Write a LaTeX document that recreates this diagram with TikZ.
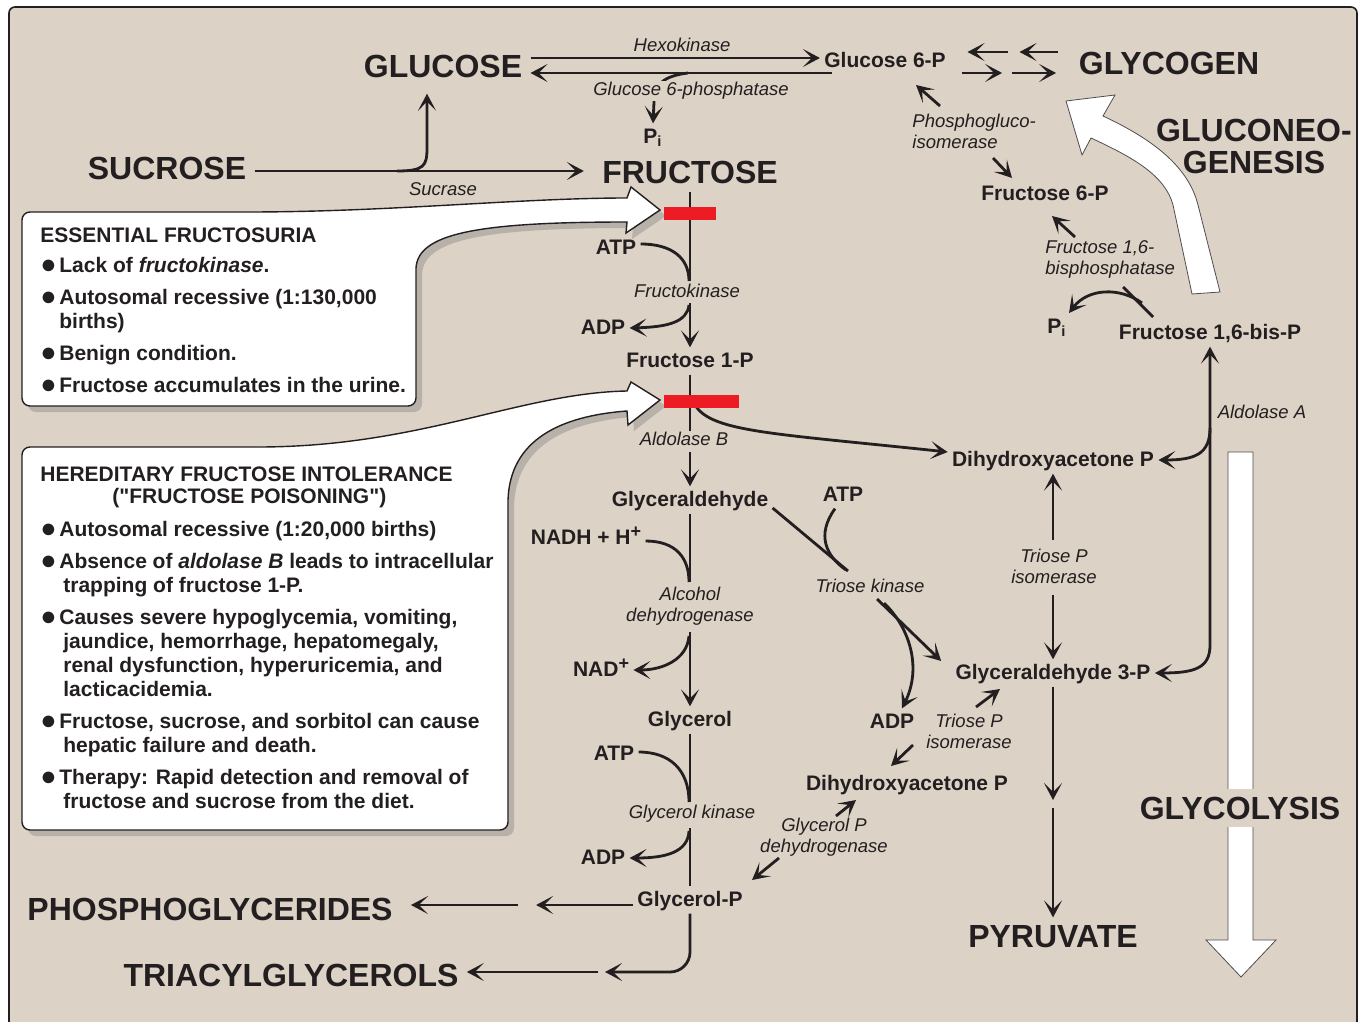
\documentclass[tikz,border=0pt]{standalone}
\usepackage{fontspec}
\setmainfont{Liberation Sans}
\usepackage{tikz}
\usetikzlibrary{arrows.meta, shadows}

\definecolor{paper}{RGB}{220,210,198}
\definecolor{ink}{RGB}{35,31,32}
\definecolor{blockred}{RGB}{237,28,36}

\newcommand{\bul}{\makebox[9.5pt][l]{\raisebox{-0.3pt}{\fontsize{13.5}{12}\selectfont ●}}}
\newcommand{\dq}{\XeTeXglyph\XeTeXcharglyph"22\relax}
\newcommand{\charge}{\raisebox{3.5pt}{\fontsize{9}{9}\selectfont +}}

\begin{document}
\begin{tikzpicture}[
    x=0.5pt, y=-0.5pt,
    >={Stealth[length=8.5pt, width=9pt, inset=4.5pt]},
    big/.style={font=\fontsize{16}{16}\selectfont\bfseries, text=ink, inner sep=4pt, align=center},
    metab/.style={font=\fontsize{10.5}{12}\selectfont\bfseries, text=ink, inner sep=2pt, text height=1.5ex, text depth=.25ex},
    enzyme/.style={font=\fontsize{9.25}{10.5}\selectfont\itshape, text=ink, fill=paper, inner sep=0.5pt},
    arrow/.style={->, line width=1.4pt, draw=ink},
    link/.style={line width=1.4pt, draw=ink},
    callout/.style={fill=white, draw=ink, line width=0.7pt, drop shadow={shadow xshift=3pt, shadow yshift=-3pt, opacity=0.4}},
    boxtext/.style={font=\fontsize{10.5}{12}\selectfont\bfseries, text=ink, align=left, anchor=north west, inner sep=0pt},
    blockarrow/.style={fill=white, draw=ink!80, line width=0.4pt},
    redbar/.style={fill=blockred, inner sep=0pt, minimum height=6.5pt}
]
\useasboundingbox (0,0) rectangle (1363,1021);
\draw[fill=paper, draw=ink, line width=0.8pt, rounded corners=3pt] (9,7) rectangle (1357,1040);

% Big white arrows: gluconeogenesis and glycolysis
\path[blockarrow] (1192,294) -- (1173,205) .. controls (1165,175) and (1132,157) .. (1091,138)
    -- (1082,155) -- (1066,101) -- (1115,95) -- (1103,116)
    .. controls (1150,138) and (1188,165) .. (1198,205) -- (1220,292) -- cycle;
\path[blockarrow] (1228,452) -- (1253,452) -- (1253,940) -- (1276,940) -- (1241,977) -- (1206,940) -- (1228,940) -- cycle;

% Callout boxes
\path[callout] (22,320) [rounded corners=4pt] -- (22,212) -- (240,212) [sharp corners]
    .. controls (390,212) and (520,198) .. (627,198) -- (631,187) -- (660,210) -- (626,233) -- (627,222)
    .. controls (475,222) and (418,234) .. (416,268) [rounded corners=4pt] -- (416,406) -- (22,406) -- cycle;
\path[callout] (22,640) [rounded corners=4pt] -- (22,447) -- (250,447) [sharp corners]
    .. controls (420,447) and (520,393) .. (627,391) -- (631,382) -- (660,400) -- (628,425) -- (627,411)
    .. controls (560,416) and (510,440) .. (508,500) [rounded corners=4pt] -- (508,830) -- (22,830) -- cycle;

\node[boxtext] (fsuria) at (40,227.5) {ESSENTIAL FRUCTOSURIA\\[3pt]
\bul Lack of \textit{fructokinase}.\\[4pt]
\bul Autosomal recessive (1:130,000\\
\hspace*{9.5pt}births)\\[4pt]
\bul Benign condition.\\[4pt]
\bul Fructose accumulates in the urine.};

\node[boxtext] (hfi) at (40,466.5) {HEREDITARY FRUCTOSE INTOLERANCE\\[-1pt]
\hspace*{36pt}(\dq FRUCTOSE POISONING\dq)\\[4.5pt]
\bul Autosomal recessive (1:20,000 births)\\[4pt]
\bul Absence of \textit{aldolase B} leads to intracellular\\
\hspace*{11.5pt}trapping of fructose 1-P.\\[4pt]
\bul Causes severe hypoglycemia, vomiting,\\
\hspace*{11.5pt}jaundice, hemorrhage, hepatomegaly,\\
\hspace*{11.5pt}renal dysfunction, hyperuricemia, and\\
\hspace*{11.5pt}lacticacidemia.\\[4pt]
\bul Fructose, sucrose, and sorbitol can cause\\
\hspace*{11.5pt}hepatic failure and death.\\[4pt]
\bul Therapy: Rapid detection and removal of\\
\hspace*{11.5pt}fructose and sucrose from the diet.};

% Main compounds
\node[big] (glucose) at (443,66) {GLUCOSE};
\node[big] (sucrose) at (167,168) {SUCROSE};
\node[big] (fructose) at (690,172) {FRUCTOSE};
\node[big] (glycogen) at (1169,63) {GLYCOGEN};
\node[big] (gluconeo) at (1254,146) {GLUCONEO-\\GENESIS};
\node[big, fill=paper] (glycolysis) at (1240,808) {GLYCOLYSIS};
\node[big] (pyruvate) at (1053,937) {PYRUVATE};
\node[big] (phosphoglyc) at (210,909) {PHOSPHOGLYCERIDES};
\node[big] (tag) at (291,975) {TRIACYLGLYCEROLS};

% Intermediates
\node[metab] (glc6p) at (885,61) {Glucose 6-P};
\node[metab] (pi1) at (653,137) {P\textsubscript{i}};
\node[metab] (fru6p) at (1045,194) {Fructose 6-P};
\node[metab] (pi2) at (1057,327) {P\textsubscript{i}};
\node[metab] (fbp) at (1210,333) {Fructose 1,6-bis-P};
\node[metab] (fru1p) at (690,361) {Fructose 1-P};
\node[metab] (glyald) at (690,500) {Glyceraldehyde};
\node[metab] (glycerol) at (690,720) {Glycerol};
\node[metab] (glycerolp) at (690,900) {Glycerol-P};
\node[metab] (dhapR) at (1053,460) {Dihydroxyacetone P};
\node[metab] (gap) at (1053,673) {Glyceraldehyde 3-P};
\node[metab] (dhapL) at (907,784) {Dihydroxyacetone P};

% Cofactors
\node[metab] (atp1) at (616,248) {ATP};
\node[metab] (adp1) at (603,328) {ADP};
\node[metab] (nadh) at (586,538) {NADH + H\charge};
\node[metab] (nad) at (601,670) {NAD\charge};
\node[metab] (atp3) at (614,754) {ATP};
\node[metab] (adp3) at (603,858) {ADP};
\node[metab] (atp2) at (843,495) {ATP};
\node[metab] (adp2) at (892,722) {ADP};

% Glucose <-> glucose 6-P <-> glycogen
\draw[arrow] ([yshift=4pt]glucose.east) -- ([yshift=4pt]glucose.east -| glc6p.west);
\draw[arrow] ([shift={(12,12)}]glc6p.west) -- ([yshift=-3.5pt]glucose.east);
\draw[arrow] (688,73) .. controls (664,76) and (654,84) .. (654,102) -- (pi1.north);
\draw[arrow] ([shift={(-13,-11)}]glycogen.west) -- ++(-38,0);
\draw[arrow] ([shift={(-63,-11)}]glycogen.west) -- ++(-40,0);
\draw[arrow] ([shift={(12,12)}]glc6p.east) -- ++(40,0);
\draw[arrow] ([shift={(62,12)}]glc6p.east) -- ++(44,0);

% Sucrose split
\draw[arrow, shorten >=5pt] (sucrose.east |- 0,171) -- (fructose.west |- 0,171);
\draw[arrow, shorten >=4pt] (397,171) .. controls (424,171) and (427,166) .. (427,148) -- (glucose.south -| 427,0);

% Fructose -> fructose 1-P
\draw[link] (fructose.south) -- (690,281);
\draw[link] ([yshift=2pt]atp1.east) .. controls (672,244) and (689,258) .. (689,281);
\draw[arrow] (690,303) -- (fru1p.north);
\draw[arrow] (689,305) .. controls (687,322) and (668,327) .. (adp1.east);

% Fructose 1-P -> trioses
\draw[link] (fru1p.south) -- (690,432);
\draw[arrow] (692,398) .. controls (702,432) and (760,432) .. ([yshift=4pt]dhapR.west);
\draw[arrow] (690,452) -- (glyald.north);

% Glyceraldehyde -> glycerol
\draw[link] (glyald.south) -- (690,582);
\draw[link] ([yshift=-1.5pt]nadh.east) .. controls (676,541) and (689,558) .. (689,582);
\draw[arrow] (690,632) -- (glycerol.north);
\draw[arrow] (689,636) .. controls (687,660) and (662,670) .. (nad.east);

% Glycerol -> glycerol-P
\draw[link] (glycerol.south) -- (690,802);
\draw[link] ([yshift=1pt]atp3.east) .. controls (670,752) and (689,770) .. (689,802);
\draw[link] (690,828) -- (glycerolp.north);
\draw[arrow] (689,831) .. controls (688,852) and (666,858) .. (adp3.east);

% Glycerol-P -> lipids
\draw[arrow] ([yshift=-2.5pt]glycerolp.west) -- ++(-97,0);
\draw[arrow, shorten >=5pt] (518,905) -- (phosphoglyc.east |- 0,905);
\draw[arrow, rounded corners=10pt] (glycerolp.south) |- (605,972);
\draw[arrow] (598,972) -- (tag.east |- 0,972);

% Triose kinase branch
\draw[link] ([yshift=-4pt]glyald.east) -- (848,571);
\draw[link] ([xshift=-4pt]atp2.south) .. controls (816,535) and (826,556) .. (846,570);
\draw[arrow] (877,599) -- ([shift={(-10,-12)}]gap.west);
\draw[arrow] (884,603) .. controls (910,628) and (922,668) .. ([xshift=5pt]adp2.north);

% Isomerase and glycerol-P dehydrogenase
\draw[arrow] (976,707) -- (1000,689);
\draw[arrow] (913,745) -- (891,766);
\draw[arrow] (836,816) -- (856,800);
\draw[arrow] (779,858) -- (752,880);

% Right column
\draw[arrow] (1053,540) -- (dhapR.south);
\draw[arrow] (1053,595) -- (gap.north);
\draw[arrow] (gap.south) -- (1053,800);
\draw[arrow] (1053,808) -- (pyruvate.north);
\draw[arrow, <->] (fbp.south) -- (1210,645) .. controls (1210,668) and (1195,673) .. (gap.east);
\draw[arrow] (1210,428) .. controls (1210,454) and (1195,460) .. (dhapR.east);

% Gluconeogenic steps
\draw[arrow] (940,106) -- (916,85);
\draw[arrow] (993,158) -- (1012,178);
\draw[arrow] (1075,237) -- (1052,216);
\draw[link] (1153,317) -- (1123,287);
\draw[arrow] (1142,303) .. controls (1120,287) and (1088,288) .. (1069,313);

% Enzymes
\node[enzyme] (hexokinase) at (682,45) {Hexokinase};
\node[enzyme] (g6pase) at (691,91) {Glucose 6-phosphatase};
\node[enzyme] (sucrase) at (443,189) {Sucrase};
\node[enzyme, align=left, anchor=west] (pgi) at (911,131) {Phosphogluco-\\isomerase};
\node[enzyme, align=left, anchor=west] (fbpase) at (1044,259) {Fructose 1,6-\\bisphosphatase};
\node[enzyme] (fructokinase) at (687,291) {Fructokinase};
\node[enzyme] (aldoB) at (684,439) {Aldolase B};
\node[enzyme, align=center] (adh) at (690,606) {Alcohol\\dehydrogenase};
\node[enzyme] (triosek) at (870,586) {Triose kinase};
\node[enzyme, align=center] (tpiR) at (1054,566) {Triose P\\isomerase};
\node[enzyme] (aldoA) at (1262,412) {Aldolase A};
\node[enzyme, align=center] (tpiL) at (969,731) {Triose P\\isomerase};
\node[enzyme] (glyk) at (692,814) {Glycerol kinase};
\node[enzyme, align=center] (gpdh) at (824,837) {Glycerol P\\dehydrogenase};

% Enzyme deficiencies
\node[redbar, minimum width=26pt] (block1) at (690,213.5) {};
\node[redbar, minimum width=37.5pt] (block2) at (701.5,401.5) {};

\end{tikzpicture}
\end{document}
